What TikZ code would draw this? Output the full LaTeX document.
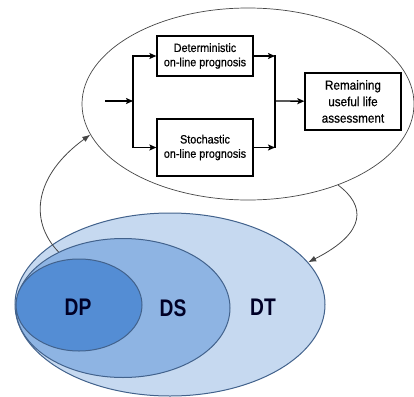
\documentclass[tikz,border=0pt]{standalone}
\usepackage{fontspec}
\setmainfont{Liberation Sans}
\newfontfamily\narrowsf[FakeStretch=0.9,FakeBold=0.6]{Liberation Sans}
\newfontfamily\setsf[FakeStretch=0.8]{Liberation Sans}
\usetikzlibrary{arrows,arrows.meta,shapes.geometric,positioning}
\definecolor{dtblue}{RGB}{198,217,240}
\definecolor{dsblue}{RGB}{142,180,227}
\definecolor{dpblue}{RGB}{84,141,212}
\definecolor{setline}{RGB}{66,98,140}
\definecolor{curveline}{RGB}{70,70,70}
\tikzstyle{block}=[draw=black,line width=1.3pt,minimum width=96pt,align=center,inner sep=0pt,font=\narrowsf\fontsize{12}{14.3}\selectfont]
\tikzstyle{flow}=[-{Stealth[length=7pt,width=6pt,inset=1.5pt]},line width=1.3pt]
\tikzstyle{setellipse}=[ellipse,draw=setline,line width=1pt,inner sep=0pt]
\tikzstyle{setname}=[font=\setsf\bfseries\fontsize{24}{26}\selectfont,text=black!85!blue]
\tikzstyle{link}=[-{Latex[length=8pt,width=6pt]},draw=curveline,line width=0.8pt]

\begin{document}
\begin{tikzpicture}[x=1pt,y=-1pt]
    \useasboundingbox (0,0) rectangle (414,396);

    % prognosis
    \node[ellipse,draw=curveline,line width=0.7pt,minimum width=332pt,minimum height=192pt] (progn) at (248,104) {};
    \node[block,minimum height=40pt] (det) at (205,56) {Deterministic\\on-line prognosis};
    \node[block,minimum height=57pt] (sto) at (205,147.5) {Stochastic\\on-line prognosis};
    \node[block,minimum height=57pt,font=\narrowsf\fontsize{13}{16.5}\selectfont] (rul) at (353,101.5) {Remaining\\useful life\\assessment};
    \coordinate (in) at (105,101);
    \coordinate (split) at (133,101);
    \coordinate (merge) at (275,101);

    \draw[flow] (in) -- (split);
    \draw[flow] (split) |- (det);
    \draw[flow] (split) |- (sto);
    \draw[flow] (det) -- (merge |- det);
    \draw[flow] (sto) -- (merge |- sto);
    \draw[line width=1.3pt,line cap=rect] (merge |- det) -- (merge |- sto);
    \draw[flow] (merge) -- (rul);

    % sets
    \node[setellipse,fill=dtblue,minimum width=310pt,minimum height=183pt] (dt) at (170,304.5) {};
    \node[setellipse,fill=dsblue,minimum width=214pt,minimum height=139pt] (ds) at (123,308) {};
    \node[setellipse,fill=dpblue,minimum width=126pt,minimum height=92pt] (dp) at (79,305) {};
    \node[setname] (dpname) at (78,307) {DP};
    \node[setname] (dsname) at (173,308) {DS};
    \node[setname] (dtname) at (263,307) {DT};

    \draw[link] (ds.139) .. controls (28,220) and (35,175) .. (progn.191);
    \draw[link] (progn.318) .. controls (365,205) and (368,232) .. (dt.17);

\end{tikzpicture}
\end{document}
